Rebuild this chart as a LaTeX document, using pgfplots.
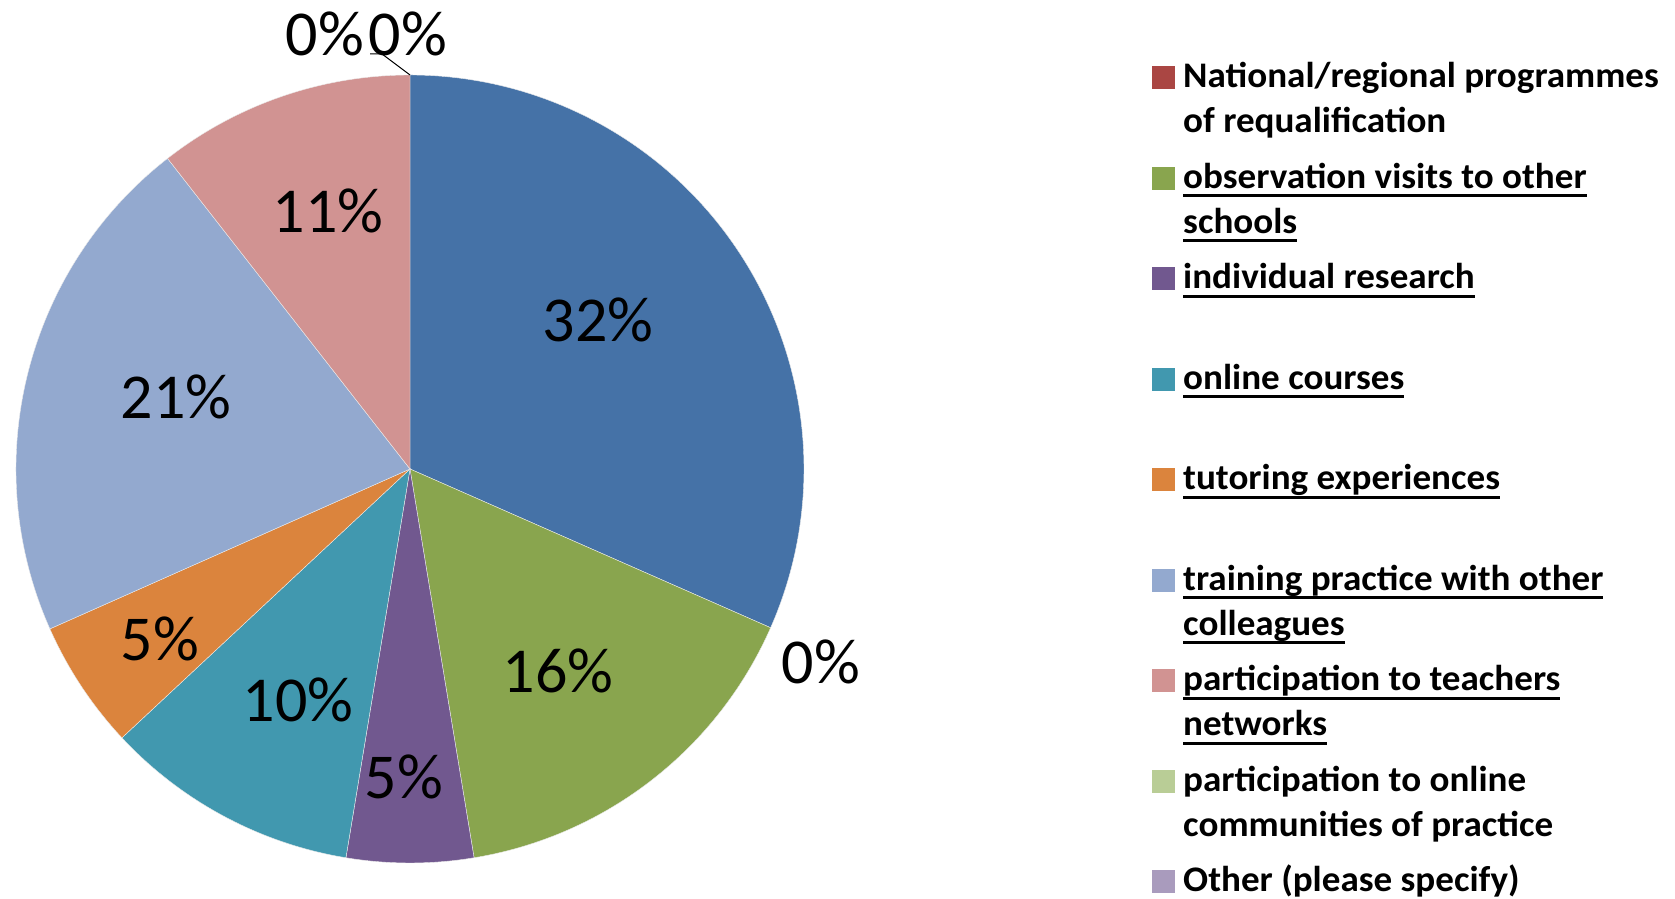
\documentclass[border=0pt]{standalone}
\usepackage{pgfplots}
\pgfplotsset{compat=1.18}
\usepackage{fontspec}
\setmainfont{Carlito}
\newfontfamily\legfam{Carlito}[FakeStretch=1.03]
\definecolor{cBlue}{HTML}{4572A7}
\definecolor{cRed}{HTML}{AA4643}
\definecolor{cGreen}{HTML}{89A54E}
\definecolor{cPurple}{HTML}{71588F}
\definecolor{cTeal}{HTML}{4198AF}
\definecolor{cOrange}{HTML}{DB843D}
\definecolor{cLBlue}{HTML}{93A9CF}
\definecolor{cPink}{HTML}{D19392}
\definecolor{cLGreen}{HTML}{B9CD96}
\definecolor{cLav}{HTML}{A99BBD}
\newcommand\lblfont{\fontsize{64}{70}\selectfont}
\newcommand\legfont{\legfam\fontsize{36}{42}\selectfont\bfseries}
\newcommand\ul[1]{\setbox0\hbox{#1}\rlap{\rule[-8.6pt]{\wd0}{2.9pt}}\box0}
% shares (percent), clockwise from 12 o'clock
\def\pBlue{31.6}\def\pRed{0}\def\pGreen{15.8}\def\pPurple{5.2}\def\pTeal{10.45}
\def\pOrange{5.3}\def\pLBlue{21.1}\def\pPink{10.55}\def\pLGreen{0}\def\pLav{0}
\def\cx{410}\def\cy{430}\def\R{394}
\pgfmathsetmacro\aO{90}
\pgfmathsetmacro\aA{\aO-3.6*\pBlue}
\pgfmathsetmacro\aB{\aA-3.6*\pRed}
\pgfmathsetmacro\aC{\aB-3.6*\pGreen}
\pgfmathsetmacro\aD{\aC-3.6*\pPurple}
\pgfmathsetmacro\aE{\aD-3.6*\pTeal}
\pgfmathsetmacro\aF{\aE-3.6*\pOrange}
\pgfmathsetmacro\aG{\aF-3.6*\pLBlue}
\pgfmathsetmacro\aH{\aG-3.6*\pPink}
\pgfmathsetmacro\xO{\cx+\R*cos(\aO)}\pgfmathsetmacro\yO{\cy+\R*sin(\aO)}
\pgfmathsetmacro\xB{\cx+\R*cos(\aB)}\pgfmathsetmacro\yB{\cy+\R*sin(\aB)}
\pgfmathsetmacro\xC{\cx+\R*cos(\aC)}\pgfmathsetmacro\yC{\cy+\R*sin(\aC)}
\pgfmathsetmacro\xD{\cx+\R*cos(\aD)}\pgfmathsetmacro\yD{\cy+\R*sin(\aD)}
\pgfmathsetmacro\xE{\cx+\R*cos(\aE)}\pgfmathsetmacro\yE{\cy+\R*sin(\aE)}
\pgfmathsetmacro\xF{\cx+\R*cos(\aF)}\pgfmathsetmacro\yF{\cy+\R*sin(\aF)}
\pgfmathsetmacro\xG{\cx+\R*cos(\aG)}\pgfmathsetmacro\yG{\cy+\R*sin(\aG)}
\begin{document}
\begin{tikzpicture}
\useasboundingbox (0,0) rectangle (1675pt,899pt);
\begin{axis}[
  at={(0,0)}, anchor=south west,
  width=1675pt, height=899pt, scale only axis,
  xmin=0, xmax=1675, ymin=0, ymax=899,
  hide axis, clip=false,
  wedge/.style={draw=white!85!gray, line width=0.4pt},
  legsq/.style={only marks, mark=square*, mark size=11pt, mark options={draw=#1, fill=#1, line width=0pt}},
]
% pie wedges
\addplot[wedge, fill=cBlue] coordinates {(\cx,\cy) (\xO,\yO)} arc[start angle=\aO, end angle=\aA, radius=\R pt] -- cycle;
\addplot[wedge, fill=cGreen] coordinates {(\cx,\cy) (\xB,\yB)} arc[start angle=\aB, end angle=\aC, radius=\R pt] -- cycle;
\addplot[wedge, fill=cPurple] coordinates {(\cx,\cy) (\xC,\yC)} arc[start angle=\aC, end angle=\aD, radius=\R pt] -- cycle;
\addplot[wedge, fill=cTeal] coordinates {(\cx,\cy) (\xD,\yD)} arc[start angle=\aD, end angle=\aE, radius=\R pt] -- cycle;
\addplot[wedge, fill=cOrange] coordinates {(\cx,\cy) (\xE,\yE)} arc[start angle=\aE, end angle=\aF, radius=\R pt] -- cycle;
\addplot[wedge, fill=cLBlue] coordinates {(\cx,\cy) (\xF,\yF)} arc[start angle=\aF, end angle=\aG, radius=\R pt] -- cycle;
\addplot[wedge, fill=cPink] coordinates {(\cx,\cy) (\xG,\yG)} arc[start angle=\aG, end angle=\aH, radius=\R pt] -- cycle;
% leader line for the top zero labels
\addplot[black, line width=1pt] coordinates {(410,824) (382,845) (370,845)};
% data labels
\node[font=\lblfont] at (axis cs:598,579) {32\%};
\node[font=\lblfont] at (axis cs:558,228) {16\%};
\node[font=\lblfont] at (axis cs:404,122) {5\%};
\node[font=\lblfont] at (axis cs:298,199) {10\%};
\node[font=\lblfont] at (axis cs:160,260) {5\%};
\node[font=\lblfont] at (axis cs:176,502) {21\%};
\node[font=\lblfont] at (axis cs:328,688) {11\%};
\node[font=\lblfont] at (axis cs:821,237) {0\%};
\node[font=\lblfont] at (axis cs:325,865) {0\%};
\node[font=\lblfont] at (axis cs:408,865) {0\%};
% legend squares
\addplot[legsq=cRed] coordinates {(1163,821)};
\addplot[legsq=cGreen] coordinates {(1163,720.5)};
\addplot[legsq=cPurple] coordinates {(1163,620)};
\addplot[legsq=cTeal] coordinates {(1163,519.5)};
\addplot[legsq=cOrange] coordinates {(1163,419)};
\addplot[legsq=cLBlue] coordinates {(1163,318.5)};
\addplot[legsq=cPink] coordinates {(1163,218)};
\addplot[legsq=cLGreen] coordinates {(1163,117.5)};
\addplot[legsq=cLav] coordinates {(1163,17)};
% legend texts
\begin{scope}[every node/.style={anchor=base west, inner sep=0pt, font=\legfont}]
\node at (axis cs:1183,811) {National/regional programmes};
\node at (axis cs:1183,766) {of requalification};
\node at (axis cs:1183,710.5) {\ul{observation visits to other}};
\node at (axis cs:1183,665.5) {\ul{schools}};
\node at (axis cs:1183,610) {\ul{individual research}};
\node at (axis cs:1183,509.5) {\ul{online courses}};
\node at (axis cs:1183,409) {\ul{tutoring experiences}};
\node at (axis cs:1183,308.5) {\ul{training practice with other}};
\node at (axis cs:1183,263.5) {\ul{colleagues}};
\node at (axis cs:1183,208) {\ul{participation to teachers}};
\node at (axis cs:1183,163) {\ul{networks}};
\node at (axis cs:1183,107.5) {participation to online};
\node at (axis cs:1183,62.5) {communities of practice};
\node at (axis cs:1183,7) {Other (please specify)};
\end{scope}
\end{axis}
\end{tikzpicture}
\end{document}
